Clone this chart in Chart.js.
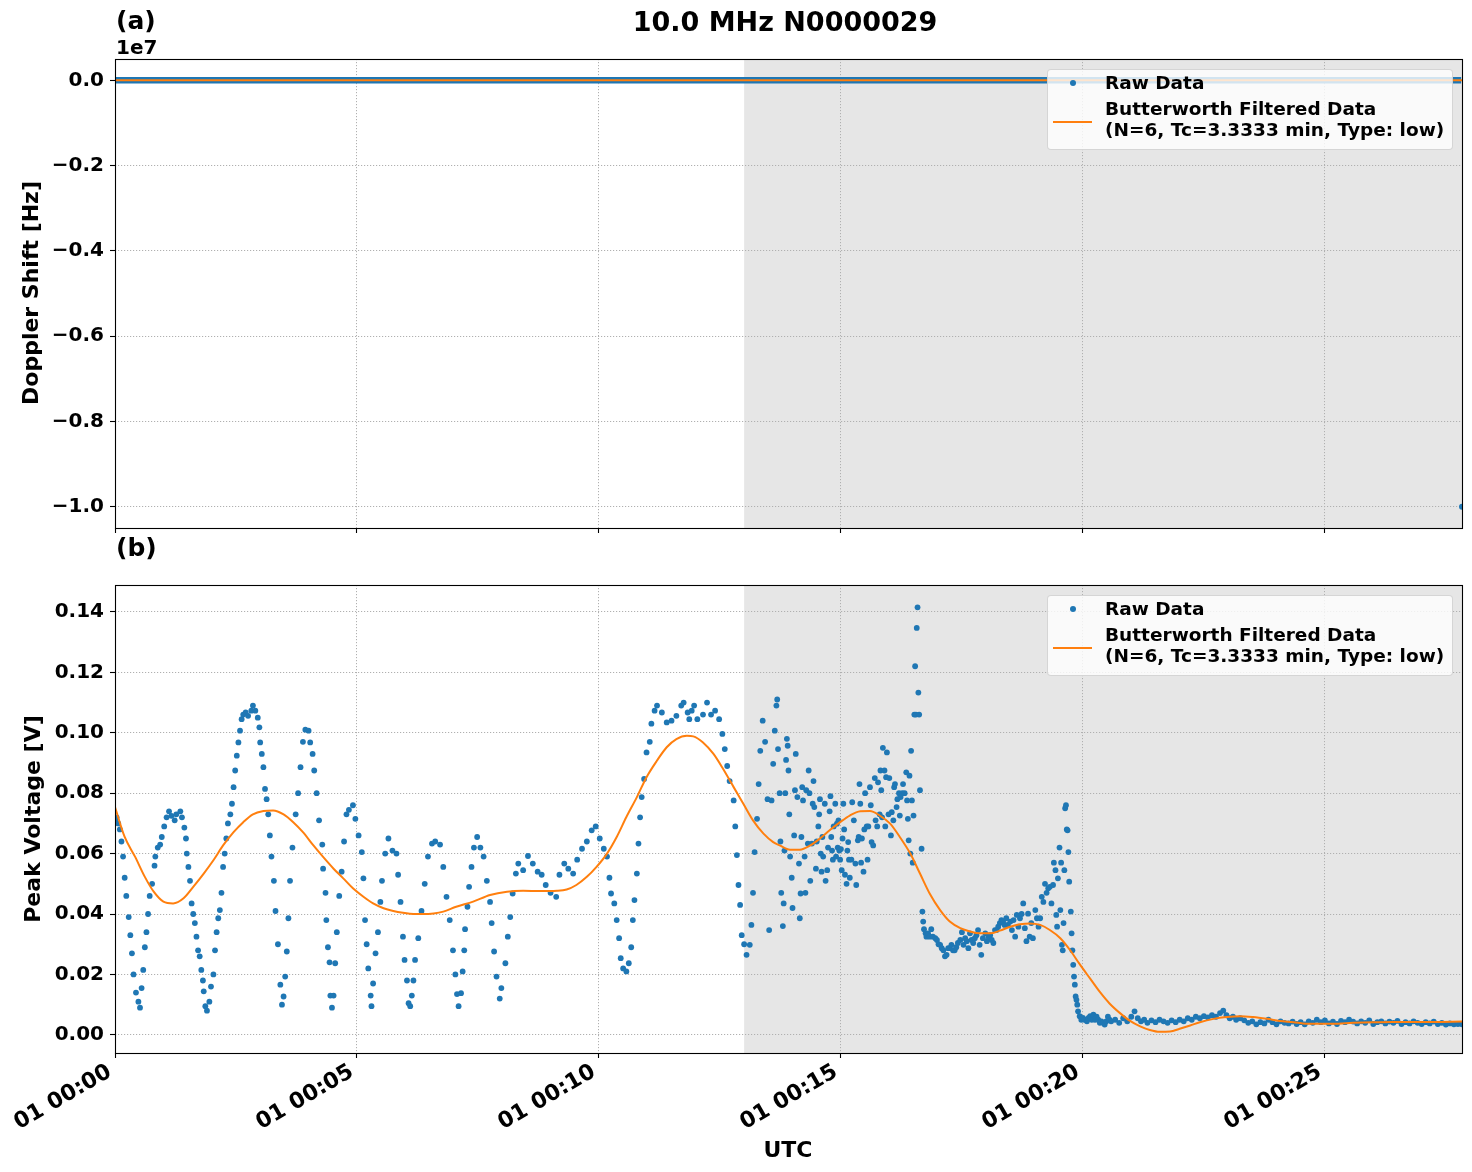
<!DOCTYPE html>
<html>
<head>
<meta charset="utf-8">
<script src="https://cdn.jsdelivr.net/npm/chart.js@4.4.1/dist/chart.umd.min.js"></script>
<style>
  body { margin: 0; background: #fff; }
  #wrap { position: relative; width: 1472px; height: 1172px; overflow: hidden;
          font-family: "DejaVu Sans", sans-serif; font-weight: bold; color: #000; }
  #wrap canvas { position: absolute; left: 0; }
  .txt { position: absolute; white-space: nowrap; line-height: 1; }
  .legend { position: absolute; left: 1047px; width: 406px; height: 81px; box-sizing: border-box;
            border: 1px solid rgba(204, 204, 204, 0.8); border-radius: 4px;
            background: rgba(255, 255, 255, 0.8); }
  .legend .dot { position: absolute; left: 22px; top: 10px; width: 6px; height: 6px;
                 border-radius: 50%; background: #1f77b4; }
  .legend .line { position: absolute; left: 5px; top: 51px; width: 39px; height: 2px; background: #ff7f0e; }
  .legend .lt { position: absolute; left: 57px; font-size: 18.5px; line-height: 1; white-space: nowrap; }
</style>
</head>
<body>
<div id="wrap">
  <canvas id="topChart" width="1472" height="560" style="top:0"></canvas>
  <canvas id="bottomChart" width="1472" height="632" style="top:540px"></canvas>

  <div class="txt" id="title" style="left:785px; top:8px; font-size:27px; transform:translateX(-50%)"></div>
  <div class="txt" style="left:116px; top:8px; font-size:25px">(a)</div>
  <div class="txt" style="left:116px; top:37px; font-size:20px">1e7</div>
  <div class="txt" style="left:116px; top:535px; font-size:25px">(b)</div>
  <div class="txt" id="ylabTop" style="left:31px; top:293px; font-size:22px; transform:translate(-50%,-50%) rotate(-90deg)"></div>
  <div class="txt" id="ylabBottom" style="left:33px; top:819px; font-size:22px; transform:translate(-50%,-50%) rotate(-90deg)"></div>
  <div class="txt" id="xlab" style="left:788px; top:1139px; font-size:22px; transform:translateX(-50%)"></div>
</div>
<script>
// ---- labels ----
const chartTitle = "10.0 MHz N0000029";
const dopplerLabel = "Doppler Shift [Hz]";
const voltLabel = "Peak Voltage [V]";
const timeLabel = "UTC";
const legendRaw = "Raw Data";
const legendFilt = ["Butterworth Filtered Data", "(N=6, Tc=3.3333 min, Type: low)"];

// ---- x axis (seconds after 00:00) ----
const timeMax = 1670;
const shadeFrom = 780; // 00:13
const xTickSeconds = [0, 300, 600, 900, 1200, 1500];
const xTickLabels = ["01 00:00", "01 00:05", "01 00:10", "01 00:15", "01 00:20", "01 00:25"];

// ---- panel (a): Doppler shift ----
const dopplerTicks = [0, -2e6, -4e6, -6e6, -8e6, -1e7];
const dopplerTickLabels = ["0.0", "\u22120.2", "\u22120.4", "\u22120.6", "\u22120.8", "\u22121.0"];
const dopplerTime = [0, 300, 600, 900, 1200, 1500, 1669, 1670];
const dopplerHz = [0, 0, 0, 0, 0, 0, 0, -1.0e7];
const dopplerFiltTime = [0, 1670];
const dopplerFiltHz = [0, 0];

// ---- panel (b): peak voltage ----
const voltTicks = [0, 0.02, 0.04, 0.06, 0.08, 0.10, 0.12, 0.14];
const voltTickLabels = ["0.00", "0.02", "0.04", "0.06", "0.08", "0.10", "0.12", "0.14"];

const rawTime = [
  0, 2, 4, 6, 8, 10, 12, 14, 17, 19,
  21, 23, 26, 29, 31, 33, 35, 37, 39, 41,
  43, 46, 49, 50, 53, 56, 58, 61, 64, 67,
  70, 74, 76, 81, 83, 86, 88, 89, 91, 93,
  95, 97, 99, 101, 103, 105, 107, 109, 110, 112,
  114, 117, 119, 122, 124, 126, 128, 130, 132, 134,
  136, 138, 140, 143, 145, 147, 149, 151, 153, 155,
  157, 159, 162, 165, 169, 171, 174, 177, 179, 180,
  182, 184, 186, 188, 190, 192, 194, 197, 199, 202,
  205, 207, 209, 211, 213, 215, 217, 220, 224, 227,
  230, 233, 236, 240, 242, 245, 247, 250, 253, 257,
  258, 261, 262, 264, 266, 267, 269, 271, 273, 275,
  278, 281, 284, 287, 290, 295, 298, 302, 306, 308,
  310, 312, 314, 317, 318, 320, 323, 326, 329, 331,
  335, 339, 344, 349, 351, 354, 357, 359, 362, 364,
  366, 368, 370, 372, 376, 380, 384, 388, 393, 397,
  403, 407, 411, 415, 419, 422, 424, 426, 429, 431,
  433, 434, 437, 439, 442, 445, 449, 453, 457, 461,
  465, 467, 470, 473, 477, 479, 484, 487, 490, 493,
  497, 500, 506, 512, 518, 524, 529, 534, 540, 547,
  551, 557, 562, 568, 573, 579, 585, 591, 596, 601,
  606, 610, 613, 615, 619, 622, 625, 627, 630, 634,
  637, 640, 642, 644, 647, 649, 651, 653, 656, 659,
  663, 665, 669, 672, 678, 684, 690, 696, 702, 705,
  710, 712, 715, 718, 722, 729, 734, 739, 744, 749,
  753, 756, 759, 762, 767, 769, 771, 773, 775, 777,
  780, 783, 787, 789, 791, 793, 796, 798, 800, 803,
  806, 809, 811, 814, 816, 818, 820, 821, 822, 824,
  825, 826, 828, 829, 830, 831, 832, 833, 834, 835,
  836, 837, 839, 840, 842, 843, 844, 846, 848, 849,
  850, 851, 852, 853, 855, 856, 857, 859, 860, 861,
  862, 864, 865, 866, 867, 869, 870, 872, 873, 874,
  875, 876, 877, 878, 880, 881, 883, 884, 886, 887,
  888, 889, 890, 891, 893, 894, 895, 896, 897, 898,
  899, 900, 901, 902, 903, 904, 905, 907, 908, 909,
  910, 911, 913, 914, 916, 918, 919, 921, 922, 923,
  924, 925, 926, 928, 929, 930, 932, 933, 934, 936,
  937, 938, 940, 942, 943, 945, 946, 948, 949, 950,
  951, 952, 954, 955, 956, 957, 959, 960, 962, 963,
  965, 966, 967, 969, 970, 972, 973, 974, 976, 977,
  979, 981, 982, 983, 984, 985, 986, 987, 988, 989,
  990, 991, 992, 993, 994, 995, 996, 997, 998, 1000,
  1001, 1002, 1003, 1005, 1006, 1008, 1010, 1012, 1014, 1017,
  1019, 1021, 1023, 1025, 1027, 1029, 1031, 1033, 1035, 1037,
  1039, 1041, 1043, 1045, 1048, 1050, 1052, 1054, 1056, 1058,
  1060, 1062, 1064, 1066, 1068, 1070, 1072, 1074, 1076, 1079,
  1081, 1083, 1085, 1087, 1089, 1091, 1093, 1095, 1097, 1099,
  1101, 1103, 1105, 1107, 1110, 1112, 1114, 1116, 1118, 1120,
  1122, 1124, 1126, 1128, 1130, 1132, 1134, 1136, 1138, 1141,
  1143, 1145, 1147, 1149, 1151, 1153, 1155, 1157, 1159, 1161,
  1163, 1164, 1166, 1167, 1168, 1169, 1171, 1172, 1173, 1174,
  1175, 1176, 1177, 1178, 1179, 1180, 1181, 1182, 1183, 1185,
  1186, 1187, 1188, 1189, 1190, 1191, 1192, 1193, 1194, 1196,
  1198, 1200, 1202, 1205, 1207, 1209, 1211, 1213, 1215, 1217,
  1219, 1221, 1223, 1225, 1227, 1229, 1231, 1233, 1235, 1240,
  1245, 1250, 1255, 1260, 1264, 1268, 1272, 1276, 1280, 1285,
  1290, 1295, 1300, 1305, 1310, 1315, 1320, 1325, 1330, 1335,
  1340, 1345, 1350, 1355, 1360, 1365, 1370, 1374, 1378, 1382,
  1386, 1390, 1395, 1400, 1405, 1410, 1415, 1420, 1425, 1430,
  1435, 1440, 1445, 1450, 1455, 1460, 1465, 1470, 1475, 1480,
  1485, 1490, 1495, 1500, 1505, 1510, 1515, 1520, 1525, 1530,
  1535, 1540, 1545, 1550, 1555, 1560, 1565, 1570, 1575, 1580,
  1585, 1590, 1595, 1600, 1605, 1610, 1615, 1620, 1625, 1630,
  1635, 1640, 1645, 1650, 1655, 1660, 1665, 1670
];
const rawVolt = [
  0.071, 0.072, 0.070, 0.068, 0.064, 0.059, 0.052, 0.046, 0.039, 0.033,
  0.027, 0.020, 0.014, 0.011, 0.009, 0.0155, 0.0215, 0.029, 0.034, 0.040,
  0.046, 0.050, 0.056, 0.059, 0.062, 0.063, 0.0655, 0.069, 0.072, 0.074,
  0.0725, 0.071, 0.073, 0.074, 0.072, 0.0686, 0.065, 0.060, 0.0556, 0.051,
  0.0435, 0.040, 0.037, 0.0325, 0.028, 0.026, 0.0215, 0.018, 0.0144, 0.0095,
  0.008, 0.011, 0.016, 0.020, 0.028, 0.034, 0.0386, 0.0413, 0.047, 0.0556,
  0.060, 0.065, 0.070, 0.073, 0.0765, 0.082, 0.0875, 0.0924, 0.0968, 0.1007,
  0.1045, 0.106, 0.1067, 0.1056, 0.1073, 0.109, 0.1073, 0.105, 0.1018, 0.0968,
  0.093, 0.0886, 0.0814, 0.078, 0.073, 0.066, 0.059, 0.051, 0.041, 0.030,
  0.0166, 0.010, 0.0127, 0.0193, 0.0276, 0.0386, 0.051, 0.062, 0.073, 0.080,
  0.0886, 0.097, 0.101, 0.1007, 0.0968, 0.093, 0.0875, 0.080, 0.071, 0.063,
  0.055, 0.047, 0.038, 0.029, 0.024, 0.013, 0.009, 0.013, 0.0237, 0.034,
  0.046, 0.054, 0.064, 0.073, 0.0745, 0.076, 0.0715, 0.066, 0.0605, 0.0518,
  0.038, 0.030, 0.022, 0.013, 0.0095, 0.017, 0.027, 0.034, 0.044, 0.051,
  0.060, 0.065, 0.061, 0.060, 0.053, 0.044, 0.0325, 0.0248, 0.018, 0.0105,
  0.0095, 0.013, 0.018, 0.0248, 0.032, 0.041, 0.050, 0.059, 0.0633, 0.064,
  0.063, 0.0556, 0.0457, 0.038, 0.028, 0.020, 0.0135, 0.0095, 0.0138, 0.021,
  0.028, 0.035, 0.0424, 0.049, 0.0556, 0.062, 0.0655, 0.062, 0.059, 0.051,
  0.044, 0.037, 0.0276, 0.0193, 0.012, 0.0155, 0.0237, 0.0325, 0.039, 0.0468,
  0.0534, 0.0567, 0.0545, 0.0592, 0.0567, 0.054, 0.053, 0.0496, 0.047, 0.0457,
  0.053, 0.0567, 0.055, 0.0534, 0.058, 0.0616, 0.064, 0.0677, 0.069, 0.065,
  0.0616, 0.059, 0.052, 0.0468, 0.0435, 0.038, 0.032, 0.0254, 0.022, 0.021,
  0.0237, 0.029, 0.038, 0.0446, 0.0534, 0.0633, 0.072, 0.0787, 0.0847, 0.0935,
  0.097, 0.103, 0.1073, 0.109, 0.1067, 0.1034, 0.104, 0.1056, 0.109, 0.110,
  0.1067, 0.1045, 0.1073, 0.109, 0.1045, 0.106, 0.110, 0.106, 0.1073, 0.1045,
  0.0996, 0.0946, 0.089, 0.084, 0.0776, 0.069, 0.0595, 0.0496, 0.043, 0.033,
  0.030, 0.0265, 0.0298, 0.0364, 0.047, 0.0605, 0.0715, 0.083, 0.094, 0.104,
  0.097, 0.078, 0.0347, 0.0776, 0.0897, 0.1007, 0.109, 0.111, 0.0946, 0.080,
  0.064, 0.047, 0.036, 0.0435, 0.061, 0.080, 0.091, 0.098, 0.0957, 0.0875,
  0.073, 0.059, 0.052, 0.042, 0.066, 0.081, 0.093, 0.0787, 0.0567, 0.0386,
  0.0468, 0.0655, 0.082, 0.0776, 0.059, 0.047, 0.081, 0.0633, 0.0875, 0.080,
  0.051, 0.0633, 0.0765, 0.084, 0.0754, 0.055, 0.064, 0.069, 0.073, 0.078,
  0.060, 0.054, 0.0655, 0.059, 0.0765, 0.051, 0.0545, 0.062, 0.074, 0.079,
  0.0655, 0.061, 0.058, 0.069, 0.0765, 0.059, 0.0699, 0.062, 0.071, 0.061,
  0.058, 0.0615, 0.0545, 0.065, 0.0765, 0.068, 0.053, 0.050, 0.061, 0.0638,
  0.058, 0.052, 0.058, 0.077, 0.071, 0.0567, 0.0496, 0.0644, 0.0655, 0.083,
  0.0765, 0.057, 0.065, 0.054, 0.068, 0.080, 0.069, 0.058, 0.069, 0.082,
  0.076, 0.0638, 0.0627, 0.085, 0.071, 0.069, 0.0836, 0.073, 0.0875, 0.081,
  0.072, 0.095, 0.0875, 0.069, 0.0853, 0.0935, 0.073, 0.085, 0.066, 0.0737,
  0.071, 0.082, 0.083, 0.0754, 0.078, 0.080, 0.0726, 0.0787, 0.080, 0.083,
  0.080, 0.0869, 0.0776, 0.0715, 0.0644, 0.0858, 0.060, 0.094, 0.0776, 0.057,
  0.0726, 0.106, 0.122, 0.106, 0.1347, 0.1415, 0.1133, 0.106, 0.081, 0.0616,
  0.0408, 0.0375, 0.035, 0.0336, 0.0325, 0.0336, 0.0325, 0.035, 0.0325, 0.032,
  0.0314, 0.030, 0.0298, 0.0287, 0.028, 0.026, 0.0265, 0.0287, 0.0287, 0.0298,
  0.028, 0.028, 0.029, 0.0304, 0.0314, 0.034, 0.0298, 0.032, 0.031, 0.0287,
  0.0336, 0.0314, 0.0304, 0.032, 0.033, 0.0347, 0.0298, 0.0265, 0.032, 0.0336,
  0.031, 0.0325, 0.033, 0.0314, 0.0304, 0.0347, 0.0347, 0.0358, 0.037, 0.038,
  0.0375, 0.0364, 0.0386, 0.0364, 0.0375, 0.0347, 0.038, 0.0325, 0.0397, 0.0358,
  0.0386, 0.040, 0.0435, 0.0353, 0.031, 0.0401, 0.0325, 0.037, 0.032, 0.0413,
  0.0386, 0.0358, 0.0386, 0.0457, 0.044, 0.050, 0.047, 0.0485, 0.049, 0.0435,
  0.0496, 0.057, 0.0545, 0.0397, 0.0358, 0.0518, 0.062, 0.0413, 0.057, 0.0298,
  0.028, 0.037, 0.0545, 0.075, 0.076, 0.068, 0.0677, 0.0605, 0.0507, 0.0408,
  0.0336, 0.028, 0.0232, 0.0193, 0.0166, 0.0127, 0.0116, 0.010, 0.0078, 0.0062,
  0.005, 0.0056, 0.005, 0.0045, 0.0056, 0.0062, 0.005, 0.0067, 0.005, 0.006,
  0.005, 0.004, 0.0045, 0.004, 0.0034, 0.0045, 0.006, 0.005, 0.0045, 0.005,
  0.004, 0.0055, 0.0045, 0.006, 0.0078, 0.0055, 0.0045, 0.005, 0.004, 0.0048,
  0.0042, 0.005, 0.0045, 0.004, 0.0048, 0.0042, 0.005, 0.0045, 0.0055, 0.005,
  0.006, 0.0055, 0.0062, 0.0058, 0.0065, 0.006, 0.0072, 0.008, 0.0065, 0.0055,
  0.006, 0.005, 0.0055, 0.0048, 0.004, 0.0045, 0.0035, 0.0042, 0.0038, 0.005,
  0.0042, 0.0035, 0.0045, 0.004, 0.0038, 0.0044, 0.0036, 0.0042, 0.0035, 0.0045,
  0.004, 0.005, 0.0042, 0.0048, 0.0038, 0.0044, 0.0036, 0.0046, 0.0042, 0.005,
  0.0044, 0.0038, 0.0045, 0.004, 0.0048, 0.0036, 0.0042, 0.0045, 0.0038, 0.0044,
  0.004, 0.0046, 0.0036, 0.0042, 0.0038, 0.0045, 0.004, 0.0036, 0.0042, 0.0038,
  0.0044, 0.0036, 0.004, 0.0034, 0.0038, 0.0035, 0.0036, 0.0035
];

const filtTime = [
  0, 12, 25, 37, 48, 60, 72, 85, 97, 110,
  122, 134, 147, 159, 171, 184, 196, 209, 221, 233,
  246, 258, 271, 283, 295, 308, 320, 333, 345, 357,
  370, 382, 395, 407, 423, 444, 465, 486, 506, 527,
  548, 560, 572, 585, 597, 610, 622, 634, 647, 659,
  672, 684, 696, 709, 717, 729, 742, 754, 767, 779,
  791, 804, 816, 824, 837, 849, 862, 874, 886, 899,
  911, 924, 936, 948, 961, 973, 986, 998, 1010, 1023,
  1035, 1048, 1060, 1072, 1085, 1097, 1110, 1122, 1134, 1147,
  1159, 1172, 1184, 1196, 1209, 1221, 1233, 1246, 1258, 1271,
  1283, 1295, 1308, 1320, 1333, 1345, 1362, 1378, 1395, 1411,
  1428, 1444, 1461, 1477, 1494, 1510, 1535, 1560, 1585, 1609,
  1634, 1670
];
const filtVolt = [
  0.0754, 0.0655, 0.0589, 0.0523, 0.0474, 0.0441, 0.0435, 0.0452, 0.049, 0.0534,
  0.0578, 0.0627, 0.0671, 0.0704, 0.073, 0.0741, 0.0743, 0.073, 0.0704, 0.0671,
  0.0627, 0.0589, 0.055, 0.0518, 0.0485, 0.0457, 0.0435, 0.0419, 0.041, 0.0404,
  0.040, 0.040, 0.0402, 0.0408, 0.0424, 0.0441, 0.0463, 0.0474, 0.0477, 0.0476,
  0.0477, 0.0481, 0.0496, 0.0523, 0.0556, 0.060, 0.0655, 0.0721, 0.0787, 0.0853,
  0.0908, 0.0952, 0.0979, 0.099, 0.0988, 0.0968, 0.093, 0.088, 0.082, 0.0765,
  0.071, 0.0666, 0.0638, 0.0627, 0.0613, 0.0613, 0.0627, 0.065, 0.0677, 0.0704,
  0.0726, 0.074, 0.0741, 0.0726, 0.0699, 0.0655, 0.060, 0.0534, 0.0468, 0.0413,
  0.0375, 0.0353, 0.0342, 0.0336, 0.0336, 0.0345, 0.0358, 0.0366, 0.0369, 0.0364,
  0.0347, 0.032, 0.0281, 0.0234, 0.0186, 0.0142, 0.0104, 0.0072, 0.0047, 0.0028,
  0.0016, 0.001, 0.0011, 0.002, 0.0031, 0.0042, 0.0053, 0.0059, 0.0062, 0.0059,
  0.0053, 0.0046, 0.0042, 0.0037, 0.0037, 0.0037, 0.004, 0.0042, 0.0043, 0.0043,
  0.0043, 0.0044
];

// ---- styling ----
const blue = "#1f77b4";
const orange = "#ff7f0e";
const yTickFont = { family: "'DejaVu Sans', sans-serif", weight: "bold", size: 20 };
const xTickFont = { family: "'DejaVu Sans', sans-serif", weight: "bold", size: 22 };
const plotLeft = 115;
const plotRightPad = 10;

document.getElementById("title").textContent = chartTitle;
document.getElementById("ylabTop").textContent = dopplerLabel;
document.getElementById("ylabBottom").textContent = voltLabel;
document.getElementById("xlab").textContent = timeLabel;

function addLegend(top) {
  const box = document.createElement("div");
  box.className = "legend";
  box.style.top = top + "px";
  box.innerHTML =
    '<span class="dot"></span>' +
    '<span class="lt" style="top:4px">' + legendRaw + "</span>" +
    '<span class="line"></span>' +
    '<span class="lt" style="top:30px">' + legendFilt[0] + "</span>" +
    '<span class="lt" style="top:50.5px">' + legendFilt[1] + "</span>";
  document.getElementById("wrap").appendChild(box);
}
addLegend(69);
addLegend(595);

// grey span after 00:13, drawn under the grid
const shadePlugin = {
  id: "shade",
  beforeDraw(chart) {
    const { ctx, chartArea, scales } = chart;
    const x0 = scales.x.getPixelForValue(shadeFrom);
    ctx.save();
    ctx.fillStyle = "rgba(128,128,128,0.2)";
    ctx.fillRect(x0, chartArea.top, chartArea.right - x0, chartArea.bottom - chartArea.top);
    ctx.restore();
  }
};

// black frame round the plot area
const framePlugin = {
  id: "frame",
  afterDraw(chart) {
    const { ctx, chartArea } = chart;
    ctx.save();
    ctx.strokeStyle = "#000";
    ctx.lineWidth = 1.1;
    ctx.strokeRect(chartArea.left + 0.5, chartArea.top + 0.5,
      chartArea.right - chartArea.left, chartArea.bottom - chartArea.top);
    ctx.restore();
  }
};

function xAxis(showLabels, height) {
  return {
    type: "linear",
    min: 0,
    max: timeMax,
    afterBuildTicks: (s) => { s.ticks = xTickSeconds.map((v) => ({ value: v })); },
    afterFit: (s) => { s.height = height; },
    grid: { color: "#b0b0b0", lineWidth: 1, tickColor: "#000", tickWidth: 1.1, tickLength: 5 },
    border: { display: false, dash: [1.2, 1.8] },
    ticks: {
      display: showLabels,
      autoSkip: false,
      maxRotation: 30,
      minRotation: 30,
      padding: 1,
      labelOffset: -5,
      color: "#000",
      font: xTickFont,
      callback: (v, i) => xTickLabels[i]
    }
  };
}

function yAxis(min, max, ticks, labels) {
  return {
    type: "linear",
    min: min,
    max: max,
    afterBuildTicks: (s) => { s.ticks = ticks.map((v) => ({ value: v })); },
    afterFit: (s) => { s.width = plotLeft; },
    grid: { color: "#b0b0b0", lineWidth: 1, tickColor: "#000", tickWidth: 1.1, tickLength: 5 },
    border: { display: false, dash: [1.2, 1.8] },
    ticks: { padding: 6, color: "#000", font: yTickFont, callback: (v, i) => labels[i] }
  };
}

const baseOptions = {
  responsive: false,
  animation: false,
  events: [],
  plugins: { legend: { display: false }, tooltip: { enabled: false } }
};

// ---- panel (a) ----
const bandPts = [];
const outlierPts = [];
dopplerTime.forEach((t, i) => {
  if (dopplerHz[i] > -1e6) bandPts.push({ x: t, y: dopplerHz[i] });
  else outlierPts.push({ x: t, y: dopplerHz[i] });
});

new Chart(document.getElementById("topChart"), {
  type: "scatter",
  data: {
    datasets: [
      {
        type: "line",
        data: dopplerFiltTime.map((t, i) => ({ x: t, y: dopplerFiltHz[i] })),
        borderColor: orange,
        borderWidth: 2,
        pointRadius: 0,
        order: 0,
        clip: 0
      },
      {
        type: "line",
        data: bandPts,
        borderColor: blue,
        borderWidth: 6.5,
        pointRadius: 0,
        order: 1,
        clip: 0
      },
      {
        data: outlierPts,
        pointRadius: 3,
        pointBackgroundColor: blue,
        pointBorderWidth: 0,
        order: 1,
        clip: 0
      }
    ]
  },
  options: Object.assign({}, baseOptions, {
    layout: { padding: { top: 59, right: plotRightPad, left: 0, bottom: 0 } },
    scales: {
      x: xAxis(false, 32),
      y: yAxis(-1.05e7, 0.05e7, dopplerTicks, dopplerTickLabels)
    }
  }),
  plugins: [shadePlugin, framePlugin]
});

// ---- panel (b) ----
new Chart(document.getElementById("bottomChart"), {
  type: "scatter",
  data: {
    datasets: [
      {
        type: "line",
        data: filtTime.map((t, i) => ({ x: t, y: filtVolt[i] })),
        borderColor: orange,
        borderWidth: 2,
        pointRadius: 0,
        cubicInterpolationMode: "monotone",
        order: 0,
        clip: 0
      },
      {
        data: rawTime.map((t, i) => ({ x: t, y: rawVolt[i] })),
        pointRadius: 2.9,
        pointBackgroundColor: blue,
        pointBorderWidth: 0,
        order: 1,
        clip: 0
      }
    ]
  },
  options: Object.assign({}, baseOptions, {
    layout: { padding: { top: 45, right: plotRightPad, left: 0, bottom: 0 } },
    scales: {
      x: xAxis(true, 119),
      y: yAxis(-0.006, 0.1489, voltTicks, voltTickLabels)
    }
  }),
  plugins: [shadePlugin, framePlugin]
});
</script>
</body>
</html>
